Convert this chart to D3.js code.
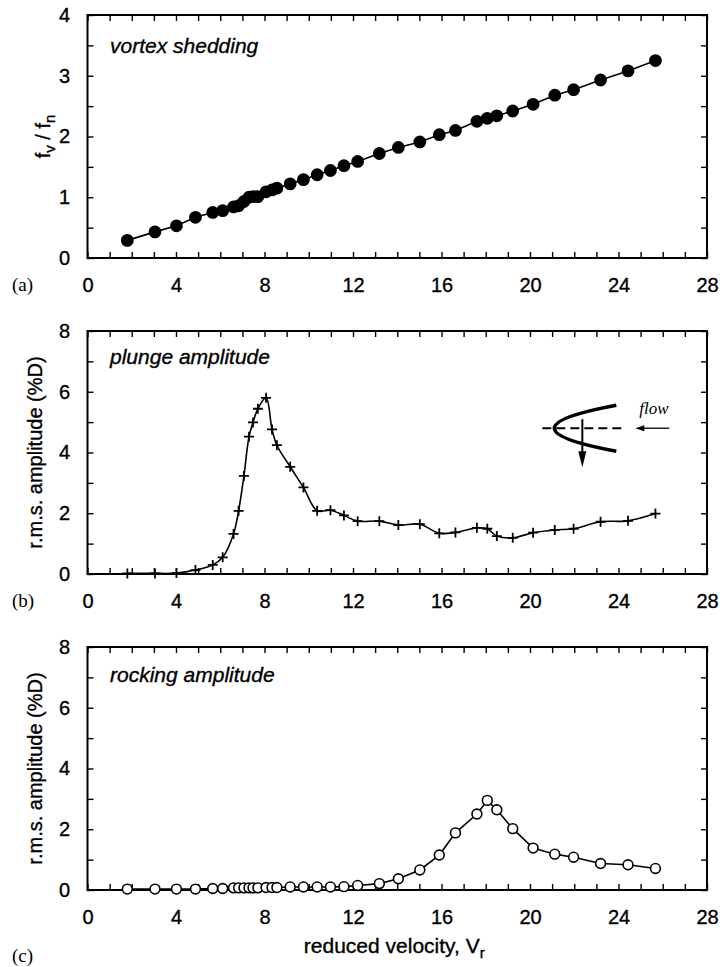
<!DOCTYPE html>
<html>
<head>
<meta charset="utf-8">
<script src="https://cdn.jsdelivr.net/npm/d3@7"></script>
<style>
  body { margin: 0; background: #fff; }
  text { font-family: "Liberation Sans", Arial, sans-serif; fill: #000; }
  .heavy { stroke: #000; stroke-width: 0.35; }
</style>
</head>
<body>
<div id="chart"></div>
<script>
// reduced velocity V_r, same test points for all three panels
var velocity = [1.8, 3.05, 4.02, 4.88, 5.66, 6.11, 6.6, 6.83, 7.07, 7.3, 7.48, 7.7,
    8.07, 8.34, 8.56, 9.16, 9.76, 10.38, 10.98, 11.59, 12.21, 13.19, 14.05, 15.02,
    15.9, 16.63, 17.6, 18.07, 18.5, 19.22, 20.14, 21.12, 21.97, 23.19, 24.43, 25.67];

// (a) vortex shedding frequency ratio fv/fn
var sheddingRatio = [0.29, 0.43, 0.53, 0.67, 0.75, 0.78, 0.84, 0.86, 0.93, 1.0, 1.01, 1.01,
    1.09, 1.12, 1.15, 1.22, 1.29, 1.37, 1.44, 1.52, 1.59, 1.72, 1.82, 1.91,
    2.03, 2.1, 2.25, 2.3, 2.34, 2.42, 2.53, 2.68, 2.77, 2.93, 3.08, 3.25];

// (b) plunge amplitude, r.m.s. %D
var plungeAmp = [0.02, 0.02, 0.03, 0.13, 0.3, 0.55, 1.32, 2.08, 3.23, 4.52, 4.99, 5.44,
    5.8, 4.76, 4.24, 3.53, 2.85, 2.08, 2.1, 1.93, 1.74, 1.74, 1.61, 1.64,
    1.34, 1.37, 1.52, 1.49, 1.25, 1.19, 1.36, 1.45, 1.49, 1.72, 1.75, 1.99];

// (c) rocking amplitude, r.m.s. %D
var rockingAmp = [0.03, 0.03, 0.03, 0.03, 0.05, 0.05, 0.07, 0.07, 0.07, 0.07, 0.07, 0.07,
    0.08, 0.08, 0.08, 0.1, 0.1, 0.1, 0.1, 0.11, 0.15, 0.21, 0.37, 0.66,
    1.15, 1.88, 2.5, 2.95, 2.64, 2.02, 1.38, 1.18, 1.08, 0.87, 0.83, 0.71];

var xTickLabels = [0, 4, 8, 12, 16, 20, 24, 28];
var ratioTickLabels = [0, 1, 2, 3, 4];
var ampTickLabels = [0, 2, 4, 6, 8];

var width = 720, height = 967;
var left = 87.5, right = 707, panelHeight = 243;

var svg = d3.select("#chart")
    .append("svg")
    .attr("width", width)
    .attr("height", height);

var x = d3.scaleLinear().domain([0, 28]).range([left, right]);

// text with subscripts: parts like {txt: "f"} or {sub: "v"}
function subLabel(t, parts) {
    var down = false;
    parts.forEach(function (pt) {
        if (pt.sub) {
            t.append("tspan").attr("dy", 5).style("font-size", "15px").text(pt.sub);
            down = true;
        } else {
            t.append("tspan").attr("dy", down ? -5 : 0).text(pt.txt);
            down = false;
        }
    });
}

function drawPanel(p) {
    var top = p.top, bottom = top + panelHeight;
    var y = d3.scaleLinear().domain([0, p.ymax]).range([bottom, top]);
    var g = svg.append("g");

    // minor ticks, inside, on all four sides
    var minorX = d3.range(0, 29);
    var minorY = d3.range(0, p.ymax + 0.001, p.ystep);
    g.append("g").attr("transform", "translate(0," + bottom + ")")
        .call(d3.axisBottom(x).tickValues(minorX).tickSize(-6).tickFormat(""));
    g.append("g").attr("transform", "translate(0," + top + ")")
        .call(d3.axisTop(x).tickValues(minorX).tickSize(-6).tickFormat(""));
    g.append("g").attr("transform", "translate(" + left + ",0)")
        .call(d3.axisLeft(y).tickValues(minorY).tickSize(-6).tickFormat(""));
    g.append("g").attr("transform", "translate(" + right + ",0)")
        .call(d3.axisRight(y).tickValues(minorY).tickSize(-6).tickFormat(""));
    g.selectAll(".domain").remove();
    g.selectAll(".tick line").attr("stroke", "#000").attr("stroke-width", 1.4);

    // tick labels
    var xl = g.append("g").attr("transform", "translate(0," + bottom + ")")
        .call(d3.axisBottom(x).tickValues(xTickLabels).tickSize(0).tickPadding(20)
            .tickFormat(d3.format("d")));
    var yl = g.append("g").attr("transform", "translate(" + left + ",0)")
        .call(d3.axisLeft(y).tickValues(p.yLabels).tickSize(0).tickPadding(17.5)
            .tickFormat(d3.format("d")));
    [xl, yl].forEach(function (a) {
        a.select(".domain").remove();
        a.attr("font-family", null).attr("font-size", null);
        a.selectAll("text").style("font-size", "20px").attr("fill", "#000")
            .attr("class", "heavy");
    });

    // frame
    g.append("rect")
        .attr("x", left).attr("y", top)
        .attr("width", right - left).attr("height", panelHeight)
        .attr("fill", "none").attr("stroke", "#000").attr("stroke-width", 2);

    // panel letter
    g.append("text")
        .attr("x", 12).attr("y", p.letterY)
        .style("font-family", "'Liberation Serif', 'Times New Roman', serif")
        .style("font-size", "19px")
        .text(p.letter);

    // title inside plot
    g.append("text")
        .attr("x", 110).attr("y", p.titleY)
        .attr("class", "heavy")
        .style("font-size", "21px").style("font-style", "italic")
        .text(p.title);

    // y axis title
    var yt = g.append("text")
        .attr("transform", "translate(" + p.ytitleX + "," + (top + panelHeight / 2) + ") rotate(-90)")
        .attr("text-anchor", "middle")
        .attr("class", "heavy")
        .style("font-size", "20px");
    p.ytitle(yt);

    // data line + markers
    var pts = velocity.map(function (v, i) { return [v, p.values[i]]; });
    var line = d3.line()
        .x(function (d) { return x(d[0]); })
        .y(function (d) { return y(d[1]); })
        .curve(p.curve || d3.curveLinear);
    g.append("path").datum(pts)
        .attr("d", line)
        .attr("fill", "none").attr("stroke", "#000").attr("stroke-width", 1.6);

    if (p.marker === "cross") {
        g.selectAll(".mk").data(pts).enter().append("path")
            .attr("transform", function (d) { return "translate(" + x(d[0]) + "," + y(d[1]) + ")"; })
            .attr("d", "M-5,0H5M0,-5V5")
            .attr("stroke", "#000").attr("stroke-width", 1.8);
    } else {
        g.selectAll(".mk").data(pts).enter().append("circle")
            .attr("cx", function (d) { return x(d[0]); })
            .attr("cy", function (d) { return y(d[1]); })
            .attr("r", p.marker === "filled" ? 5.6 : 4.9)
            .attr("fill", p.marker === "filled" ? "#000" : "#fff")
            .attr("stroke", "#000").attr("stroke-width", 1.6);
    }
    return { g: g, y: y };
}

drawPanel({
    top: 15, ymax: 4, ystep: 0.5, yLabels: ratioTickLabels,
    values: sheddingRatio, marker: "filled",
    letter: "(a)", letterY: 291, title: "vortex shedding", titleY: 53,
    ytitleX: 50,
    ytitle: function (t) {
        subLabel(t, [{ txt: "f" }, { sub: "v" }, { txt: " / f" }, { sub: "n" }]);
    }
});

var pb = drawPanel({
    top: 331, ymax: 8, ystep: 1, yLabels: ampTickLabels,
    values: plungeAmp, marker: "cross", curve: d3.curveCatmullRom.alpha(0.5),
    letter: "(b)", letterY: 607, title: "plunge amplitude", titleY: 364,
    ytitleX: 42,
    ytitle: function (t) { t.text("r.m.s. amplitude (%D)"); }
});

drawPanel({
    top: 647, ymax: 8, ystep: 1, yLabels: ampTickLabels,
    values: rockingAmp, marker: "open",
    letter: "(c)", letterY: 962, title: "rocking amplitude", titleY: 682,
    ytitleX: 42,
    ytitle: function (t) { t.text("r.m.s. amplitude (%D)"); }
});

// x axis title under the last panel
var xt = svg.append("text")
    .attr("x", (left + right) / 2 - 3).attr("y", 953)
    .attr("text-anchor", "middle")
    .attr("class", "heavy")
    .style("font-size", "21px");
subLabel(xt, [{ txt: "reduced velocity, V" }, { sub: "r" }]);

// flow sketch in panel (b): body section, plunge direction, flow arrow
var yb = pb.y, icon = pb.g.append("g");
var vx = x(21.1), vy = yb(4.8);
icon.append("path")
    .attr("d", "M" + (vx + 62) + "," + (vy - 23) + "Q" + (vx - 62) + "," + vy + " " + (vx + 62) + "," + (vy + 23))
    .attr("fill", "none").attr("stroke", "#000").attr("stroke-width", 3.5);
icon.append("line")
    .attr("x1", vx - 12).attr("x2", vx + 70).attr("y1", vy).attr("y2", vy)
    .attr("stroke", "#000").attr("stroke-width", 2).attr("stroke-dasharray", "9,5");
icon.append("line")
    .attr("x1", vx + 28).attr("x2", vx + 28).attr("y1", vy - 9).attr("y2", vy + 24)
    .attr("stroke", "#000").attr("stroke-width", 2);
icon.append("path")
    .attr("d", "M" + (vx + 24) + "," + (vy + 23) + "L" + (vx + 32) + "," + (vy + 23) + "L" + (vx + 28) + "," + (vy + 39) + "Z")
    .attr("fill", "#000");
icon.append("line")
    .attr("x1", vx + 88).attr("x2", vx + 115).attr("y1", vy).attr("y2", vy)
    .attr("stroke", "#000").attr("stroke-width", 1.3);
icon.append("path")
    .attr("d", "M" + (vx + 81) + "," + vy + "L" + (vx + 90) + "," + (vy - 3) + "L" + (vx + 90) + "," + (vy + 3) + "Z")
    .attr("fill", "#000");
icon.append("text")
    .attr("x", vx + 85).attr("y", vy - 14)
    .style("font-family", "'Liberation Serif', 'Times New Roman', serif")
    .style("font-style", "italic").style("font-size", "17px")
    .text("flow");
</script>
</body>
</html>
